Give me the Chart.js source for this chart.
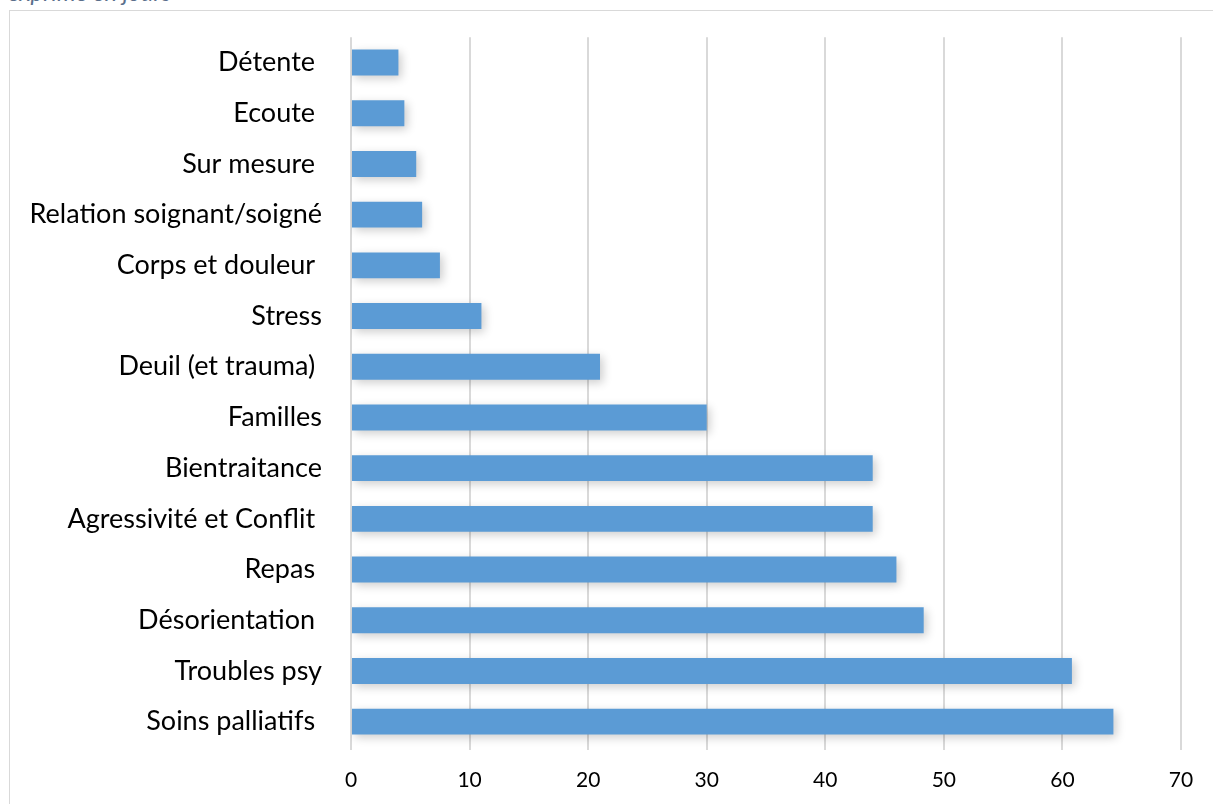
<!DOCTYPE html>
<html>
<head>
<meta charset="utf-8">
<script src="https://cdn.jsdelivr.net/npm/chart.js@4/dist/chart.umd.min.js"></script>
<style>
    html, body { margin: 0; padding: 0; background: #fff; overflow: hidden; }
    #frame { position: absolute; left: 9px; top: 10px; width: 1300px; height: 900px;
             border: 1px solid #d9d9d9; box-sizing: border-box; }
    #title { position: absolute; left: 8px; top: -23px; font: italic 24px Lato, sans-serif;
             color: #5b6f8c; white-space: nowrap; }
    #wrap { position: absolute; left: 0; top: 0; width: 1213px; height: 804px; }
</style>
</head>
<body>
<div id="title">exprimé en jours</div>
<div id="frame"></div>
<div id="wrap"><canvas id="c"></canvas></div>
<script>
const categories = [
    'Détente ', 'Ecoute ', 'Sur mesure ', 'Relation soignant/soigné', 'Corps et douleur ',
    'Stress', 'Deuil (et trauma) ', 'Familles', 'Bientraitance', 'Agressivité et Conflit ',
    'Repas ', 'Désorientation ', 'Troubles psy', 'Soins palliatifs '
];
const days = [ 4, 4.5, 5.5, 6, 7.5, 11, 21, 30, 44, 44, 46, 48.3, 60.8, 64.3 ];
const xTicks = [ 0, 10, 20, 30, 40, 50, 60, 70 ];

Chart.defaults.font.family = 'Lato, sans-serif';
Chart.defaults.color = '#000';
Chart.defaults.animation = false;

// soft drop shadow like the office bars
const barShadow = {
    id: 'barShadow',
    beforeDatasetsDraw( chart ) {
        const ctx = chart.ctx;
        ctx.save();
        ctx.shadowColor = 'rgba(0,0,0,0.2)';
        ctx.shadowBlur = 10;
        ctx.shadowOffsetX = 3;
        ctx.shadowOffsetY = 3;
    },
    afterDatasetsDraw( chart ) {
        chart.ctx.restore();
    }
};

new Chart( document.getElementById( 'c' ), {
    type: 'bar',
    data: {
        labels: categories,
        datasets: [ {
            data: days,
            backgroundColor: '#5b9bd5',
            borderWidth: 0,
            categoryPercentage: 1,
            barPercentage: 0.51
        } ]
    },
    options: {
        indexAxis: 'y',
        responsive: true,
        maintainAspectRatio: false,
        events: [],
        layout: { padding: { left: 0, right: 32, top: 37, bottom: 0 } },
        plugins: { legend: false, tooltip: { enabled: false } },
        scales: {
            x: {
                min: 0,
                max: 70,
                afterBuildTicks: s => { s.ticks = xTicks.map( v => ( { value: v } ) ); },
                afterFit: s => { s.height = 57; },
                grid: { color: '#d9d9d9', lineWidth: 2, tickLength: 3, drawTicks: true },
                border: { display: false },
                ticks: { font: { size: 21 }, padding: 18 }
            },
            y: {
                afterFit: s => { s.width = 351; },
                grid: { display: false },
                border: { display: false },
                ticks: { font: { size: 27 }, padding: 21, autoSkip: false }
            }
        }
    },
    plugins: [ barShadow ]
} );
</script>
</body>
</html>
